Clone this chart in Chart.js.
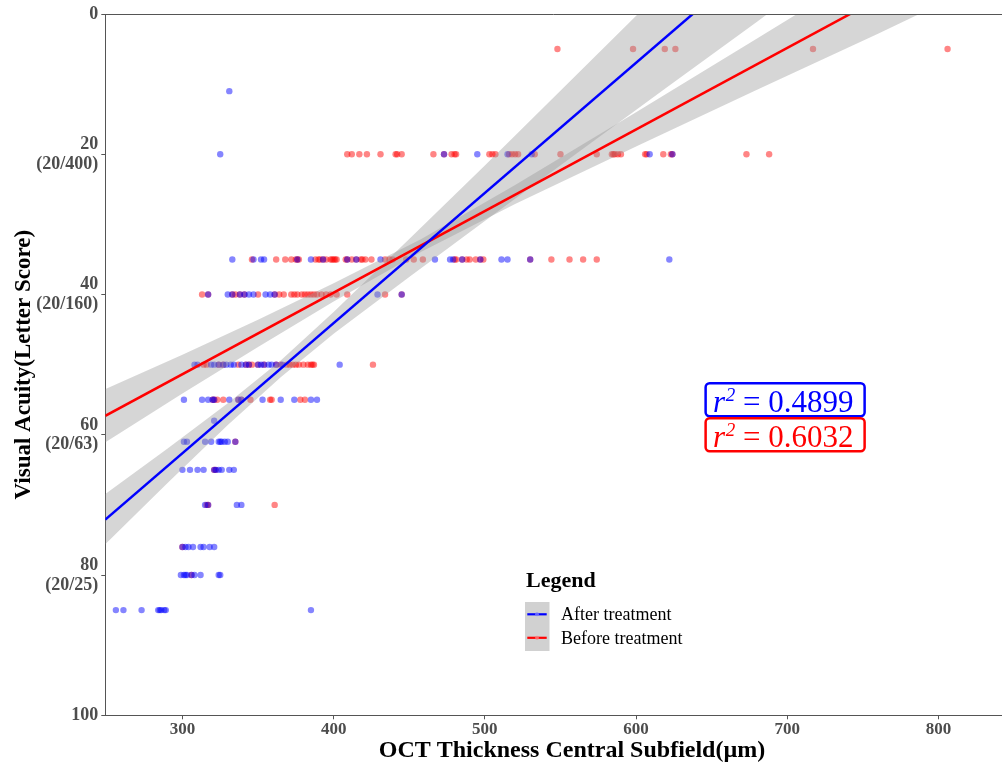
<!DOCTYPE html>
<html>
<head>
<meta charset="utf-8">
<script src="https://cdn.jsdelivr.net/npm/chart.js@4"></script>
<style>
  html, body { margin: 0; padding: 0; background: #fff; overflow: hidden; }
  #wrap { width: 1002px; height: 767px; position: relative; }
  #chart { display: block; }
</style>
</head>
<body>
<div id="wrap"><canvas id="chart"></canvas></div>
<script>
// axis ticks
const xTickValues = [300, 400, 500, 600, 700, 800];
const yTickValues = [0, 20, 40, 60, 80, 100];
const yTickLabels = [['0'], ['20', '(20/400)'], ['40', '(20/160)'], ['60', '(20/63)'], ['80', '(20/25)'], ['100']];

// letter score levels, and OCT values seen at each level
const scoreLevels = [5, 11, 20, 35, 40, 50, 55, 58, 61, 65, 70, 76, 80, 85];
const afterOct = [
  [],
  [331],
  [325, 473, 495, 515, 531, 609, 624],
  [333, 347, 352, 354, 376, 385, 393, 409, 415, 431, 467, 477, 479, 485, 497, 511, 515, 530, 622],
  [317, 330, 333, 338, 341, 344, 347, 355, 358, 361, 429, 445],
  [308, 310, 319, 321, 324, 327, 329, 332, 334, 339, 342, 344, 350, 352, 354, 357, 359, 362, 366, 404],
  [301, 313, 317, 320, 321, 331, 337, 339, 353, 365, 374, 385, 389],
  [321],
  [301, 303, 315, 319, 324, 325, 326, 328, 330, 335],
  [300, 305, 310, 314, 321, 322, 324, 326, 331, 334],
  [315, 317, 336, 339],
  [300, 302, 304, 307, 312, 314, 318, 321],
  [299, 301, 302, 303, 306, 308, 312, 324, 325],
  [256, 261, 273, 284, 285, 286, 288, 289, 385]
];
const beforeOct = [
  [548, 598, 619, 626, 717, 806],
  [],
  [409, 412, 417, 422, 431, 441, 442, 445, 466, 473, 478, 480, 481, 503, 505, 507, 516, 518, 520, 522, 533, 550, 574, 584, 585, 586, 588, 590, 606, 607, 618, 623, 624, 673, 688],
  [346, 362, 368, 372, 375, 376, 377, 388, 390, 391, 393, 395, 398, 399, 400, 401, 402, 408, 409, 412, 415, 418, 419, 421, 425, 434, 437, 439, 448, 453, 459, 480, 481, 485, 488, 490, 494, 497, 499, 530, 544, 556, 565, 574],
  [313, 317, 333, 335, 338, 341, 350, 361, 364, 367, 372, 374, 376, 379, 381, 383, 385, 387, 389, 392, 395, 398, 402, 409, 434, 445],
  [314, 316, 324, 327, 337, 342, 344, 346, 350, 354, 362, 365, 369, 371, 373, 375, 377, 380, 383, 385, 386, 387, 426],
  [320, 321, 323, 327, 337, 339, 345, 358, 359, 378, 381],
  [],
  [335],
  [321, 322],
  [316, 317, 361],
  [300],
  [306],
  []
];

// fitted lines (end points) and confidence bands
const afterFitX = [249, 700];
const afterFitY = [72.1, -11.6];
const beforeFitX = [249, 800];
const beforeFitY = [57.3, -6.8];

const afterBandX = [248, 290, 330, 365, 400, 450, 500, 560, 620, 680, 720];
const afterBandLow = [68.6, 62.0, 55.5, 49.4, 42.5, 32.1, 21.6, 8.8, -4.0, -16.7, -25.3];
const afterBandHigh = [75.8, 66.9, 58.6, 51.8, 45.6, 37.5, 29.5, 20.0, 10.5, 1.1, -5.3];
const beforeBandX = [248, 300, 350, 400, 458, 520, 600, 680, 760, 800];
const beforeBandLow = [53.6, 48.6, 43.6, 38.4, 32.1, 24.4, 14.0, 3.5, -7.1, -12.3];
const beforeBandHigh = [61.2, 54.1, 47.5, 41.0, 33.9, 27.1, 18.9, 10.8, 2.8, -1.3];

const seriesNames = ['After treatment', 'Before treatment'];
const r2Values = ['0.4899', '0.6032'];
const r2AnchorX = 646;
const r2AnchorY = [55, 60];
const xTitle = 'OCT Thickness Central Subfield(µm)';

const BLUE = '#0000ff';
const RED = '#ff0000';
const SERIF = '"Liberation Serif", "Times New Roman", serif';

function toPoints(rows) {
  const pts = [];
  rows.forEach((row, i) => row.forEach(x => pts.push({ x: x, y: scoreLevels[i] })));
  return pts;
}
function zip(xs, ys) {
  return xs.map((x, i) => ({ x: x, y: ys[i] }));
}

const extras = {
  id: 'extras',
  afterDraw(chart) {
    const ctx = chart.ctx;
    const a = chart.chartArea;
    const xs = chart.scales.x, ys = chart.scales.y;
    ctx.save();
    // top border
    ctx.strokeStyle = '#555';
    ctx.lineWidth = 1;
    ctx.beginPath();
    ctx.moveTo(a.left, a.top + 0.5);
    ctx.lineTo(a.right, a.top + 0.5);
    ctx.stroke();

    // x axis title
    ctx.fillStyle = '#000';
    ctx.textAlign = 'center';
    ctx.textBaseline = 'middle';
    ctx.font = 'bold 24px ' + SERIF;
    ctx.fillText(xTitle, 572, 751);

    // r squared labels
    [BLUE, RED].forEach((col, i) => {
      const left = xs.getPixelForValue(r2AnchorX);
      const cy = ys.getPixelForValue(r2AnchorY[i]);
      const w = 159, h = 33;
      ctx.strokeStyle = col;
      ctx.lineWidth = 2.5;
      ctx.beginPath();
      ctx.roundRect(left, cy - h / 2, w, h, 4);
      ctx.stroke();
      ctx.fillStyle = col;
      ctx.textBaseline = 'alphabetic';
      ctx.textAlign = 'left';
      const base = cy + 12.5;
      let tx = left + 7.5;
      ctx.font = 'italic 31px ' + SERIF;
      ctx.fillText('r', tx, base);
      tx += ctx.measureText('r').width + 0.5;
      ctx.font = 'italic 19px ' + SERIF;
      ctx.fillText('2', tx, base - 11);
      tx += ctx.measureText('2').width;
      ctx.font = '31px ' + SERIF;
      ctx.fillText(' = ' + r2Values[i], tx, base);
    });

    // legend
    const lx = 525, ly = 581;
    ctx.fillStyle = '#000';
    ctx.textBaseline = 'middle';
    ctx.font = 'bold 22px ' + SERIF;
    ctx.fillText('Legend', lx + 1, ly);
    ctx.fillStyle = 'rgba(153,153,153,0.45)';
    ctx.fillRect(lx, 602, 24.5, 49);
    [BLUE, RED].forEach((col, i) => {
      const ky = 614.3 + i * 23.5;
      ctx.strokeStyle = col;
      ctx.lineWidth = 2.2;
      ctx.beginPath();
      ctx.moveTo(lx + 2.3, ky);
      ctx.lineTo(lx + 21.7, ky);
      ctx.stroke();
      ctx.fillStyle = i === 0 ? 'rgba(120,120,255,0.8)' : 'rgba(255,120,120,0.8)';
      ctx.beginPath();
      ctx.arc(lx + 12, ky, 2, 0, Math.PI * 2);
      ctx.fill();
      ctx.fillStyle = '#000';
      ctx.font = '18px ' + SERIF;
      ctx.fillText(seriesNames[i], lx + 36, ky + 1);
    });
    ctx.restore();
  }
};

new Chart(document.getElementById('chart'), {
  type: 'scatter',
  data: {
    datasets: [
      {
        label: seriesNames[0], data: toPoints(afterOct), order: 3,
        backgroundColor: 'rgba(0,0,255,0.48)', borderWidth: 0, pointRadius: 3.2
      },
      {
        label: seriesNames[1], data: toPoints(beforeOct), order: 3,
        backgroundColor: 'rgba(255,0,0,0.48)', borderWidth: 0, pointRadius: 3.2
      },
      {
        type: 'line', data: zip(afterBandX, afterBandLow), order: 2, clip: 0,
        borderWidth: 0, pointRadius: 0, fill: false
      },
      {
        type: 'line', data: zip(afterBandX, afterBandHigh), order: 2, clip: 0,
        borderWidth: 0, pointRadius: 0, fill: '-1', backgroundColor: 'rgba(153,153,153,0.4)'
      },
      {
        type: 'line', data: zip(beforeBandX, beforeBandLow), order: 2, clip: 0,
        borderWidth: 0, pointRadius: 0, fill: false
      },
      {
        type: 'line', data: zip(beforeBandX, beforeBandHigh), order: 2, clip: 0,
        borderWidth: 0, pointRadius: 0, fill: '-1', backgroundColor: 'rgba(153,153,153,0.4)'
      },
      {
        type: 'line', data: zip(afterFitX, afterFitY), order: 1, clip: 0,
        borderColor: BLUE, borderWidth: 2.5, pointRadius: 0, fill: false
      },
      {
        type: 'line', data: zip(beforeFitX, beforeFitY), order: 1, clip: 0,
        borderColor: RED, borderWidth: 2.5, pointRadius: 0, fill: false
      }
    ]
  },
  options: {
    responsive: true,
    maintainAspectRatio: false,
    animation: false,
    layout: { autoPadding: false, padding: { top: 14, right: 0, bottom: 0, left: 0 } },
    plugins: { legend: { display: false }, tooltip: { enabled: false } },
    scales: {
      x: {
        type: 'linear', min: 249, max: 842,
        afterFit: s => { s.height = 51.7; s.paddingLeft = 0; s.paddingRight = 0; },
        afterBuildTicks: s => { s.ticks = xTickValues.map(v => ({ value: v })); },
        grid: { drawOnChartArea: false, drawTicks: true, tickLength: 4, color: '#555' },
        border: { display: true, color: '#555', width: 1 },
        ticks: { padding: 0, color: '#4d4d4d', font: { family: SERIF, size: 17, weight: 'bold' } },
        title: { display: false }
      },
      y: {
        type: 'linear', min: 0, max: 100, reverse: true,
        afterFit: s => { s.width = 105.3; s.paddingTop = 0; s.paddingBottom = 0; },
        afterBuildTicks: s => { s.ticks = yTickValues.map(v => ({ value: v })); },
        grid: { drawOnChartArea: false, drawTicks: true, tickLength: 4, color: '#555' },
        border: { display: true, color: '#555', width: 1 },
        ticks: {
          padding: 3, color: '#4d4d4d',
          font: { family: SERIF, size: 18, weight: 'bold', lineHeight: 1.1 },
          callback: v => yTickLabels[yTickValues.indexOf(v)]
        },
        title: {
          display: true, text: 'Visual Acuity(Letter Score)', color: '#000',
          font: { family: SERIF, size: 23, weight: 'bold', lineHeight: 1.2 },
          padding: { top: 10, bottom: 0 }
        }
      }
    }
  },
  plugins: [extras]
});
</script>
</body>
</html>
